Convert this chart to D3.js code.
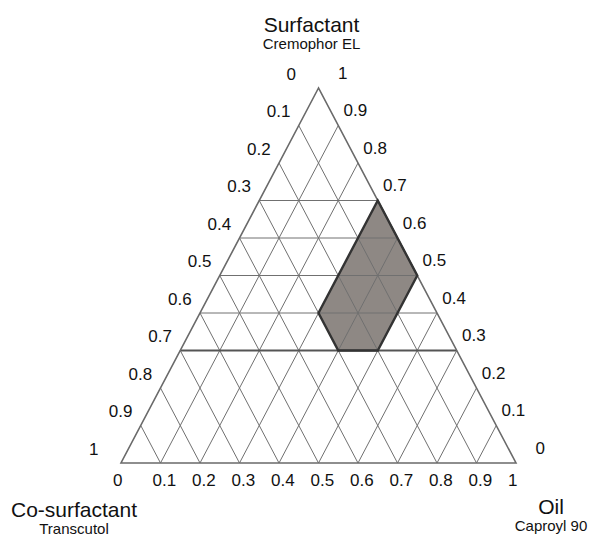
<!DOCTYPE html>
<html>
<head>
<meta charset="utf-8">
<script src="https://cdn.jsdelivr.net/npm/d3@7"></script>
<style>
  body { margin: 0; background: #fff; }
  text { font-family: "Liberation Sans", Arial, sans-serif; fill: #111; }
</style>
</head>
<body>
<svg width="590" height="535"></svg>
<script>
// tick values along each side
var ticks = [0, 0.1, 0.2, 0.3, 0.4, 0.5, 0.6, 0.7, 0.8, 0.9, 1];
var tickLabels = ["0", "0.1", "0.2", "0.3", "0.4", "0.5", "0.6", "0.7", "0.8", "0.9", "1"];
// inner grid lines
var gridSteps = [0.1, 0.2, 0.3, 0.4, 0.5, 0.6, 0.7, 0.8, 0.9];
var surfLevels = [0.3, 0.4, 0.5, 0.6, 0.7];

// shaded region, as fractions (surfactant, co-surfactant, oil)
var regionSurf = [0.7, 0.5, 0.3, 0.3, 0.4];
var regionCosurf = [0, 0, 0.2, 0.3, 0.3];
var regionOil = [0.3, 0.5, 0.5, 0.4, 0.3];

var svg = d3.select("svg");

// ternary -> screen scales
var x = d3.scaleLinear().domain([0, 1]).range([121, 516]);
var y = d3.scaleLinear().domain([0, 1]).range([463, 88]);

function pt(s, o) {
    return [x(o + s / 2), y(s)];
}

var line = d3.line();

// shaded region fill
var region = regionSurf.map(function (s, i) {
    return pt(s, regionOil[i]);
});
svg.append("path")
    .attr("d", line(region) + "Z")
    .attr("fill", "#8e8884")
    .attr("stroke", "none");

var grid = svg.append("g")
    .attr("fill", "none")
    .attr("stroke", "#707070")
    .attr("stroke-width", 1);

// constant co-surfactant lines
gridSteps.forEach(function (c) {
    grid.append("path").attr("d", line([pt(1 - c, 0), pt(0, 1 - c)]));
});
// constant oil lines
gridSteps.forEach(function (o) {
    grid.append("path").attr("d", line([pt(1 - o, o), pt(0, o)]));
});
// constant surfactant lines (middle band only)
surfLevels.forEach(function (s) {
    grid.append("path")
        .attr("d", line([pt(s, 0), pt(s, 1 - s)]))
        .attr("stroke", s === 0.3 ? "#555" : "#707070")
        .attr("stroke-width", s === 0.3 ? 2 : 1);
});

// triangle outline
svg.append("path")
    .attr("d", line([pt(1, 0), pt(0, 0), pt(0, 1)]) + "Z")
    .attr("fill", "none")
    .attr("stroke", "#6a6a6a")
    .attr("stroke-width", 1.6);

// region outline
svg.append("path")
    .attr("d", line(region) + "Z")
    .attr("fill", "none")
    .attr("stroke", "#333")
    .attr("stroke-width", 2.4)
    .attr("stroke-linejoin", "miter");

// left side: co-surfactant 0 (top) .. 1 (bottom)
svg.append("g").selectAll("text")
    .data(ticks)
    .enter().append("text")
    .attr("x", function (c) { return pt(1 - c, 0)[0] - 32; })
    .attr("y", function (c) { return pt(1 - c, 0)[1] - 8.5; })
    .attr("font-size", 17)
    .attr("text-anchor", "start")
    .text(function (d, i) { return tickLabels[i]; });

// right side: surfactant 1 (top) .. 0 (bottom)
svg.append("g").selectAll("text")
    .data(ticks)
    .enter().append("text")
    .attr("x", function (s) { return pt(s, 1 - s)[0] + 29; })
    .attr("y", function (s) { return pt(s, 1 - s)[1] - 9.5; })
    .attr("font-size", 17)
    .attr("text-anchor", "end")
    .text(function (d, i) { return tickLabels[i]; });

// bottom: oil 0 .. 1
svg.append("g").selectAll("text")
    .data(ticks)
    .enter().append("text")
    .attr("x", function (o) { return x(o) - 8; })
    .attr("y", 485.5)
    .attr("font-size", 17)
    .attr("text-anchor", "start")
    .text(function (d, i) { return tickLabels[i]; });

// vertex titles
function title(cx, by, main, sub) {
    svg.append("text")
        .attr("x", cx).attr("y", by)
        .attr("text-anchor", "middle")
        .attr("font-size", 21)
        .text(main);
    svg.append("text")
        .attr("x", cx).attr("y", by + 17.5)
        .attr("text-anchor", "middle")
        .attr("font-size", 15)
        .text(sub);
}
title(311.5, 31.5, "Surfactant", "Cremophor EL");
title(74, 516.5, "Co-surfactant", "Transcutol");
title(551, 513.5, "Oil", "Caproyl 90");
</script>
</body>
</html>
